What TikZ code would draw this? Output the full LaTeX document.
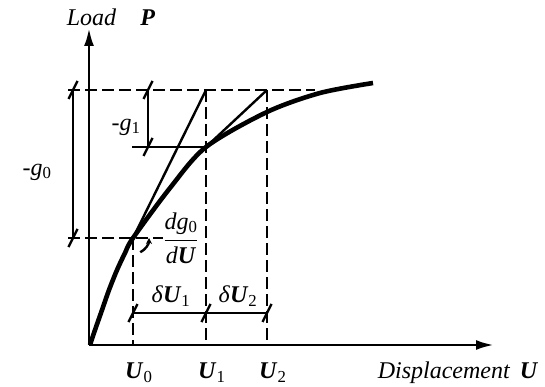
\documentclass[tikz,border=0pt]{standalone}
\usepackage{fontspec}
\setmainfont{Liberation Serif}
\usepackage{tikz}
\usetikzlibrary{arrows.meta,calc}
\tikzstyle{axis} = [draw, line width=2.8pt, -{Latex[length=18pt,width=10pt]}]
\tikzstyle{curve} = [draw, line width=4.6pt]
\tikzstyle{dim} = [draw, line width=2.4pt]
\tikzstyle{guide} = [draw, line width=2.4pt, dash pattern=on 12pt off 5pt]
\tikzstyle{lbl} = [inner sep=0pt, font=\fontsize{24}{28}\selectfont]
\newcommand{\bU}{\textbf{\textit{U}}}
\newcommand{\tick}[1]{\draw [dim] ($(#1)+(-4.5,9)$) -- ($(#1)+(4.5,-9)$);}

\begin{document}
\begin{tikzpicture}[x=1pt, y=-1pt]
        \useasboundingbox (0,0) rectangle (545,387);
        % Points
        \coordinate (O) at (89,345);
        \coordinate (ytip) at (89,28);
        \coordinate (xtip) at (494,345);
        \coordinate (A0) at (133,238);
        \coordinate (A1) at (206,147);
        \coordinate (A2) at (267,112);
        \coordinate (T1) at (206,90);
        \coordinate (T2) at (267,90);
        \coordinate (B0) at (133,345);
        \coordinate (B1) at (206,345);
        \coordinate (B2) at (267,345);
        \coordinate (G0t) at (73,90);
        \coordinate (G0b) at (73,238);
        \coordinate (G1t) at (148,90);
        \coordinate (G1b) at (148,147);
        \coordinate (D0) at (133,313);
        \coordinate (D1) at (206,313);
        \coordinate (D2) at (267,313);

        % Labels
        \node [lbl] (load) at (111,17) {\textit{Load}\hspace{1em}\textbf{\textit{P}}};
        \node [lbl] (disp) at (458,373) {\textit{Displacement}\hspace{0.4em}\bU};
        \node [lbl, anchor=west] (u0) at (125,373) {\bU\textsubscript{0}};
        \node [lbl, anchor=west] (u1) at (198,373) {\bU\textsubscript{1}};
        \node [lbl, anchor=west] (u2) at (259,373) {\bU\textsubscript{2}};
        \node [lbl] (g0) at (37,172) {-\textit{g}\textsubscript{0}};
        \node [lbl] (g1) at (126,127) {-\textit{g}\textsubscript{1}};
        \node [lbl] (du1) at (171,296) {\textit{δ}\bU\textsubscript{1}};
        \node [lbl] (du2) at (238,296) {\textit{δ}\bU\textsubscript{2}};
        \node [lbl] (slope) at (181,238) {$\displaystyle\frac{\mbox{\textit{dg}\textsubscript{0}}}{\mbox{\textit{d}\bU}}$};

        % Axes
        \path [axis] (O) -- (ytip);
        \path [axis] (O) -- (xtip);

        % Guide lines
        \path [guide] (68,90) -- (315,90);
        \path [guide] (68,238) -- (A0) -- (163,238);
        \path [guide] (A0) -- (B0);
        \path [guide] (T1) -- (B1);
        \path [guide] (T2) -- (B2);

        % Response curve
        \path [curve] plot [smooth] coordinates {(90,345) (95,330) (102,310) (109,290) (117,270) (125,253) (A0) (170,188) (A1) (A2) (320,93) (373,83)};

        % Iteration lines
        \path [dim] (A0) -- (T1);
        \path [dim] (A1) -- (T2);
        \path [dim] (132,147) -- (A1);
        \draw [dim, -{Stealth[length=6pt,width=6pt]}] ($(A0)+(63:16)$) arc [start angle=63, end angle=0, radius=16];

        % Dimensions
        \path [dim] (G0t) -- (G0b);
        \path [dim] (G1t) -- (G1b);
        \path [dim] (D0) -- (D2);
        \tick{G0t} \tick{G0b} \tick{G1t} \tick{G1b}
        \tick{D0} \tick{D1} \tick{D2}
    \end{tikzpicture}
\end{document}
